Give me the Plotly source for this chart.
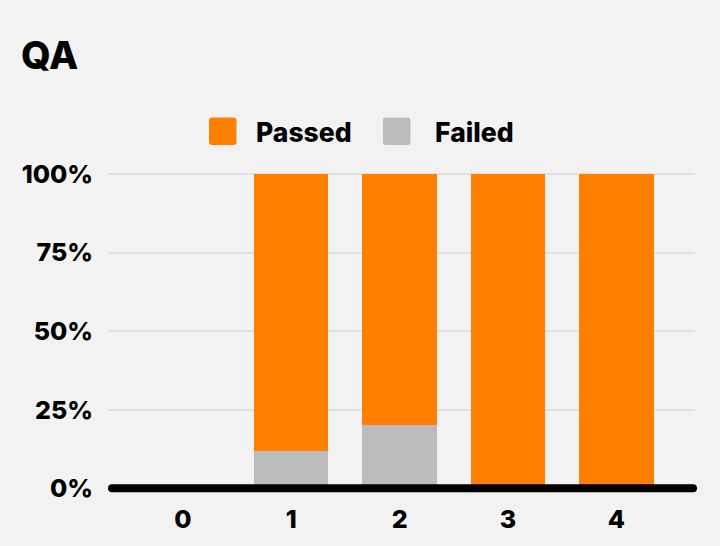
import plotly.graph_objects as go

categories = ["0", "1", "2", "3", "4"]
passed = [0, 88, 80, 100, 100]
failed = [0, 12, 20, 0, 0]
y_ticks = [0, 25, 50, 75, 100]
y_tick_labels = ["0%", "25%", "50%", "75%", "100%"]

ORANGE = "#FF7F00"
GREY = "#BBBBBB"
BG = "#F2F2F2"
FONT = "Inter"
WEIGHT = 800

W, H = 720, 546
ML, MR, MT, MB = 108, 25, 171, 51

fig = go.Figure()
fig.add_trace(go.Bar(x=categories, y=failed, name="Failed",
                     marker=dict(color=GREY, line=dict(width=0)), width=0.686))
fig.add_trace(go.Bar(x=categories, y=passed, name="Passed",
                     marker=dict(color=ORANGE, line=dict(width=0)), width=0.686))

def X(v):
    return (v - ML) / (W - ML - MR)

def Y(v):
    return 1 - (v - MT) / (H - MT - MB)

# baseline with rounded ends (approx)
hh = 1.25
e = 4 / (W - ML - MR)
x_end = X(697)
path = (f"M {e},{-hh} L {x_end-e},{-hh} Q {x_end},{-hh} {x_end},0 Q {x_end},{hh} {x_end-e},{hh} "
        f"L {e},{hh} Q 0,{hh} 0,0 Q 0,{-hh} {e},{-hh} Z")
shapes = [dict(type="path", xref="paper", yref="y", path=path, fillcolor="black",
               line=dict(width=0), layer="above")]

# manual legend (Passed, Failed)
legend_items = [("Passed", ORANGE, 209, 254), ("Failed", GREY, 383, 433)]
annotations = []
for label, color, sx, tx in legend_items:
    s = 27.5
    cy = 131
    x0, x1 = sx, sx + s
    y0, y1 = cy - s / 2, cy + s / 2
    r = 3
    p = (f"M {X(x0+r)},{Y(y0)} L {X(x1-r)},{Y(y0)} Q {X(x1)},{Y(y0)} {X(x1)},{Y(y0+r)} "
         f"L {X(x1)},{Y(y1-r)} Q {X(x1)},{Y(y1)} {X(x1-r)},{Y(y1)} "
         f"L {X(x0+r)},{Y(y1)} Q {X(x0)},{Y(y1)} {X(x0)},{Y(y1-r)} "
         f"L {X(x0)},{Y(y0+r)} Q {X(x0)},{Y(y0)} {X(x0+r)},{Y(y0)} Z")
    shapes.append(dict(type="path", xref="paper", yref="paper", path=p, fillcolor=color, line=dict(width=0)))
    annotations.append(dict(text=label, xref="paper", yref="paper", x=X(tx), y=Y(cy + 1),
                            xanchor="left", yanchor="middle", showarrow=False,
                            font=dict(family=FONT, size=26.5, color="black", weight=WEIGHT)))

fig.update_layout(
    width=W, height=H,
    margin=dict(l=ML, r=MR, t=MT, b=MB, pad=0),
    paper_bgcolor=BG, plot_bgcolor=BG,
    barmode="stack",
    showlegend=False,
    title=dict(text="QA", x=21 / W, xanchor="left", xref="container",
               y=1 - 56 / H, yanchor="middle", yref="container",
               font=dict(family=FONT, size=38, color="black", weight=WEIGHT)),
    font=dict(family=FONT, size=25, color="black", weight=WEIGHT),
    xaxis=dict(type="category", range=[-0.69, 4.725], showgrid=False, zeroline=False, showline=False,
               ticks="", ticklabelstandoff=9,
               tickfont=dict(family=FONT, size=25, color="black", weight=WEIGHT)),
    yaxis=dict(range=[-1.5, 101], tickvals=y_ticks, ticktext=y_tick_labels, showgrid=True,
               gridcolor="#E2DFDD", gridwidth=2, zeroline=False, showline=False, ticks="",
               ticklabelstandoff=14,
               tickfont=dict(family=FONT, size=25, color="black", weight=WEIGHT)),
    shapes=shapes,
    annotations=annotations,
)

fig.write_html("out.html")
